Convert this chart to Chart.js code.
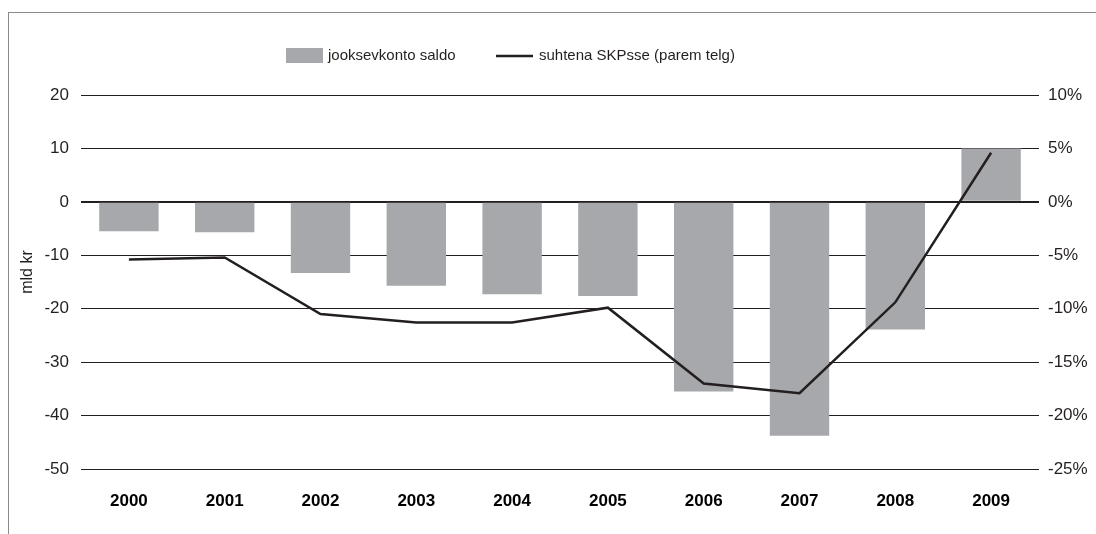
<!DOCTYPE html>
<html>
<head>
<meta charset="utf-8">
<script src="https://cdn.jsdelivr.net/npm/chart.js@4"></script>
<style>
  html, body { margin: 0; padding: 0; background: #fff; }
  #wrap { position: relative; width: 1096px; height: 534px; }
  #frame { position: absolute; left: 8px; top: 12px; right: 0; bottom: 0;
           border-top: 1px solid #8a8a8a; border-left: 1px solid #8a8a8a; }
  canvas { position: absolute; left: 0; top: 0; }
</style>
</head>
<body>
<div id="wrap">
  <div id="frame"></div>
  <canvas id="myChart" width="1096" height="534"></canvas>
</div>
<script>
// andmed
const years = ['2000', '2001', '2002', '2003', '2004', '2005', '2006', '2007', '2008', '2009'];
const saldo = [-5.5, -5.7, -13.3, -15.7, -17.3, -17.6, -35.5, -43.8, -23.9, 10.0];
const suhe = [-5.4, -5.2, -10.5, -11.3, -11.3, -9.9, -17.0, -17.9, -9.4, 4.6];
const leftTicks = [-50, -40, -30, -20, -10, 0, 10, 20];
const rightTicks = [-25, -20, -15, -10, -5, 0, 5, 10];

const barColor = '#a7a8ab';
const ink = '#231f20';
const fontFam = '"Liberation Sans", Arial, Helvetica, sans-serif';

// legend ja telje nimi joonistatakse käsitsi
const legendPlugin = {
    id: 'ownLegend',
    afterDraw(chart) {
        const ctx = chart.ctx;
        const bars = chart.data.datasets.find(d => d.type === 'bar');
        const line = chart.data.datasets.find(d => d.type === 'line');
        const y = 56;
        ctx.save();
        ctx.font = '15px ' + fontFam;
        ctx.textBaseline = 'middle';

        ctx.fillStyle = barColor;
        ctx.fillRect(286, 48, 37, 15);
        ctx.fillStyle = ink;
        ctx.fillText(bars.label, 328, y);

        ctx.strokeStyle = ink;
        ctx.lineWidth = 2.5;
        ctx.beginPath();
        ctx.moveTo(496, y);
        ctx.lineTo(533, y);
        ctx.stroke();
        ctx.fillText(line.label, 539, y);

        // vasaku telje nimi
        ctx.translate(28, 272);
        ctx.rotate(-Math.PI / 2);
        ctx.textAlign = 'center';
        ctx.font = '16px ' + fontFam;
        ctx.fillText('mld kr', 0, 0);
        ctx.restore();
    }
};

const ctx = document.getElementById('myChart').getContext('2d');
const myChart = new Chart(ctx, {
    data: {
        labels: years,
        datasets: [{
            type: 'line',
            label: 'suhtena SKPsse (parem telg)',
            data: suhe,
            yAxisID: 'y1',
            borderColor: ink,
            borderWidth: 2.5,
            pointRadius: 0,
            tension: 0,
            order: 0
        }, {
            type: 'bar',
            label: 'jooksevkonto saldo',
            data: saldo,
            yAxisID: 'y',
            backgroundColor: barColor,
            categoryPercentage: 1,
            barPercentage: 0.62,
            order: 1
        }]
    },
    options: {
        responsive: false,
        animation: false,
        layout: { padding: { top: 95, left: 0, right: 0, bottom: 0 } },
        plugins: {
            legend: { display: false },
            tooltip: { enabled: false }
        },
        scales: {
            x: {
                grid: { display: false, drawTicks: false },
                border: { display: false },
                ticks: { color: '#000', padding: 22, font: { family: fontFam, size: 17, weight: 'bold' } },
                afterFit: s => { s.height = 65; }
            },
            y: {
                position: 'left',
                min: -50, max: 20,
                afterBuildTicks: s => { s.ticks = leftTicks.map(v => ({ value: v })); },
                grid: {
                    color: ink,
                    drawTicks: false,
                    lineWidth: c => (c.tick && c.tick.value === 0 ? 2 : 1)
                },
                border: { display: false },
                ticks: { color: ink, padding: 12, font: { family: fontFam, size: 17 } },
                afterFit: s => { s.width = 81; }
            },
            y1: {
                position: 'right',
                min: -25, max: 10,
                afterBuildTicks: s => { s.ticks = rightTicks.map(v => ({ value: v })); },
                grid: { display: false, drawTicks: false },
                border: { display: false },
                ticks: {
                    color: ink, padding: 9, font: { family: fontFam, size: 17 },
                    callback: v => v + '%'
                },
                afterFit: s => { s.width = 57; }
            }
        }
    },
    plugins: [legendPlugin]
});
</script>
</body>
</html>
